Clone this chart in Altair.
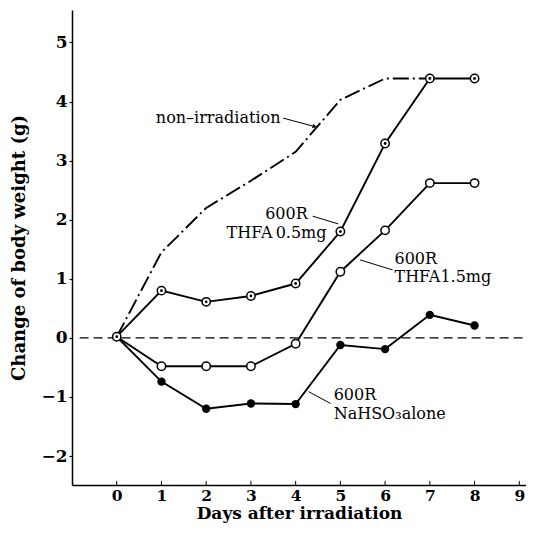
import altair as alt
import pandas as pd

# ---- data ----
days = [0, 1, 2, 3, 4, 5, 6, 7, 8]
thfa_05 = [0.02, 0.80, 0.61, 0.71, 0.92, 1.80, 3.29, 4.39, 4.39]
thfa_15 = [0.02, -0.48, -0.48, -0.48, -0.10, 1.12, 1.82, 2.62, 2.62]
nahso3 = [0.02, -0.74, -1.20, -1.11, -1.12, -0.12, -0.19, 0.39, 0.21]

non_irr_days = [0, 1, 2, 3, 4, 5, 6, 7]
non_irr = [0.02, 1.45, 2.20, 2.66, 3.15, 4.03, 4.39, 4.39]

x_ticks = [0, 1, 2, 3, 4, 5, 6, 7, 8, 9]
y_ticks = [-2, -1, 0, 1, 2, 3, 4, 5]

# annotation texts
ann_text = ["non\u2013irradiation", "600R", "THFA\u20090.5mg", "600R", "THFA1.5mg", "600R", "NaHSO\u2083alone"]
ann_x = [3.66, 4.27, 4.69, 6.21, 6.21, 4.85, 4.85]
ann_y = [3.72, 2.10, 1.77, 1.34, 1.03, -0.96, -1.29]
ann_align = ["right", "right", "right", "left", "left", "left", "left"]

# pointer lines
ptr_x = [3.72, 4.38, 5.44, 4.29]
ptr_y = [3.72, 2.06, 1.32, -0.91]
ptr_x2 = [4.41, 4.95, 6.17, 4.78]
ptr_y2 = [3.58, 1.93, 1.15, -1.11]

X_DOM = [-1, 9.15]
Y_DOM = [-2.49, 5.55]
FONT = "DejaVu Serif"

# ---- tables ----
solid = pd.DataFrame({
    "day": days * 3,
    "val": thfa_05 + thfa_15 + nahso3,
    "series": ["a"] * 9 + ["b"] * 9 + ["c"] * 9,
})
nonirr_df = pd.DataFrame({"day": non_irr_days, "val": non_irr})
dot_df = pd.DataFrame({"day": days, "val": thfa_05})
open_df = pd.DataFrame({"day": days[1:], "val": thfa_15[1:]})
fill_df = pd.DataFrame({"day": days[1:], "val": nahso3[1:]})
zero_df = pd.DataFrame({"x": [-0.83], "x2": [9.1], "y": [0]})
tick_df = pd.DataFrame({"x": x_ticks, "y": [Y_DOM[0]] * len(x_ticks), "y2": [Y_DOM[0] + 0.07] * len(x_ticks)})
ann_df = pd.DataFrame({"t": ann_text, "x": ann_x, "y": ann_y, "al": ann_align})
ptr_df = pd.DataFrame({"x": ptr_x, "y": ptr_y, "x2": ptr_x2, "y2": ptr_y2})
arrow_df = pd.DataFrame({"x": [ptr_x2[0]], "y": [ptr_y2[0]]})

xs = alt.Scale(domain=X_DOM, nice=False, zero=False)
ys = alt.Scale(domain=Y_DOM, nice=False, zero=False)

X = alt.X("day:Q", scale=xs, title="Days after irradiation",
          axis=alt.Axis(values=x_ticks, tickSize=0, labelPadding=3, grid=False,
                        titlePadding=2, labelFontSize=15.5, titleFontSize=17))
Y = alt.Y("val:Q", scale=ys, title="Change of body weight (g)",
          axis=alt.Axis(values=y_ticks, tickSize=3, labelPadding=2, grid=False,
                        titlePadding=12, labelFontSize=17, titleFontSize=18,
                        labelExpr="datum.value < 0 ? '\u2212' + abs(datum.value) : '' + datum.value"))

lines = alt.Chart(solid).mark_line(color="black", strokeWidth=1.9).encode(
    x=X, y=Y, detail="series:N")

nonirr_line = alt.Chart(nonirr_df).mark_line(color="black", strokeWidth=1.9,
                                               strokeDash=[16, 4, 2, 4]).encode(
    x=alt.X("day:Q", scale=xs), y=alt.Y("val:Q", scale=ys))

zero_line = alt.Chart(zero_df).mark_rule(color="black", strokeWidth=1.2, strokeDash=[9, 5]).encode(
    x=alt.X("x:Q", scale=xs), x2="x2:Q", y=alt.Y("y:Q", scale=ys))

xticks_in = alt.Chart(tick_df).mark_rule(color="black", strokeWidth=1).encode(
    x=alt.X("x:Q", scale=xs), y=alt.Y("y:Q", scale=ys), y2="y2:Q")

dot_outer = alt.Chart(dot_df).mark_point(shape="circle", filled=True, fill="white",
                                         stroke="black", strokeWidth=1.5, size=70,
                                         opacity=1).encode(
    x=alt.X("day:Q", scale=xs), y=alt.Y("val:Q", scale=ys))
dot_inner = alt.Chart(dot_df).mark_point(shape="circle", filled=True, color="black",
                                         size=8, opacity=1).encode(
    x=alt.X("day:Q", scale=xs), y=alt.Y("val:Q", scale=ys))
open_pts = alt.Chart(open_df).mark_point(shape="circle", filled=True, fill="white",
                                         stroke="black", strokeWidth=1.5, size=70,
                                         opacity=1).encode(
    x=alt.X("day:Q", scale=xs), y=alt.Y("val:Q", scale=ys))
fill_pts = alt.Chart(fill_df).mark_point(shape="circle", filled=True, color="black",
                                         size=70, opacity=1).encode(
    x=alt.X("day:Q", scale=xs), y=alt.Y("val:Q", scale=ys))

ptrs = alt.Chart(ptr_df).mark_rule(color="black", strokeWidth=1).encode(
    x=alt.X("x:Q", scale=xs), y=alt.Y("y:Q", scale=ys), x2="x2:Q", y2="y2:Q")
arrow = alt.Chart(arrow_df).mark_point(shape="triangle", filled=True, color="black",
                                       size=22, angle=105, opacity=1).encode(
    x=alt.X("x:Q", scale=xs), y=alt.Y("y:Q", scale=ys))

ann_left = alt.Chart(ann_df[ann_df.al == "left"]).mark_text(
    align="left", baseline="middle", font=FONT, fontSize=16, color="black").encode(
    x=alt.X("x:Q", scale=xs), y=alt.Y("y:Q", scale=ys), text="t:N")
ann_right = alt.Chart(ann_df[ann_df.al == "right"]).mark_text(
    align="right", baseline="middle", font=FONT, fontSize=16, color="black").encode(
    x=alt.X("x:Q", scale=xs), y=alt.Y("y:Q", scale=ys), text="t:N")

chart = alt.layer(
    lines, nonirr_line, zero_line, xticks_in, ptrs, arrow,
    dot_outer, dot_inner, open_pts, fill_pts, ann_left, ann_right,
).properties(
    width=454, height=475,
    padding={"left": 64, "top": 2, "right": 0, "bottom": 42},
    autosize=alt.AutoSizeParams(type="none"),
    background="white",
).configure_view(
    strokeWidth=0
).configure_axis(
    domainColor="black", domainWidth=1.5, tickColor="black", tickWidth=1.2,
    labelFont=FONT, labelFontWeight="bold", labelColor="black",
    titleFont=FONT, titleFontWeight="bold", titleColor="black",
)

chart.save("out.html", embed_options={"renderer": "svg", "actions": False})
